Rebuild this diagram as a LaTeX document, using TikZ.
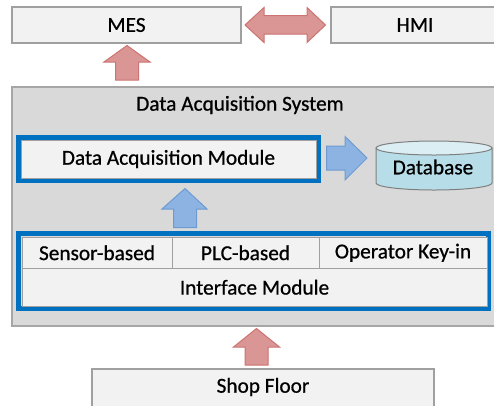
\documentclass[tikz,border=0pt]{standalone}
\usepackage{fontspec}
\setmainfont{Carlito}[BoldFont=Carlito, BoldFeatures={FakeBold=0.7}]
\definecolor{boxfill}{HTML}{F2F2F2}
\definecolor{boxline}{HTML}{A0A0A0}
\definecolor{sysfill}{HTML}{D9D9D9}
\definecolor{sysline}{HTML}{A6A6A6}
\definecolor{modblue}{HTML}{0070C0}
\definecolor{redfill}{HTML}{D99694}
\definecolor{redline}{HTML}{C0504D}
\definecolor{bluefill}{HTML}{8DB3E2}
\definecolor{blueline}{HTML}{6C9BD2}
\definecolor{dbfill}{HTML}{B7DEE8}
\definecolor{dbtop}{HTML}{DAEEF3}
\definecolor{dbline}{HTML}{7F7F7F}
\tikzset{
  txt/.style={font=\fontsize{21.3}{24}\selectfont\bfseries},
  plainbox/.style={draw=boxline, fill=boxfill, line width=1.3pt, inner sep=0pt, txt},
  cellbox/.style={draw=boxline, fill=boxfill, line width=1pt, inner sep=0pt, txt},
  bluebox/.style={draw=modblue, line width=5pt, inner sep=0pt},
  redarrow/.style={draw=redline!80, fill=redfill, line width=1pt, line join=miter},
  bluearrow/.style={draw=blueline, fill=bluefill, line width=1pt, line join=miter},
  lbl/.style={inner sep=0pt, txt}
}
\begin{document}
\begin{tikzpicture}[x=1pt,y=-1pt]
\useasboundingbox (0,0) rectangle (494,405);
\clip (0,0) rectangle (494,405);
% top row
\node[plainbox, minimum width=229pt, minimum height=36pt] (mes) at (126.5,25) {MES};
\node[plainbox, minimum width=229pt, minimum height=36pt] (hmi) at (445.5,25) {};
\node[lbl] (hmitxt) at (415,25) {HMI};
% double arrow MES <-> HMI
\draw[redarrow] (245,25) -- (264,7.5) -- (264,15.5) -- (307,15.5) -- (307,7.5) -- (325.5,25)
   -- (307,42.5) -- (307,34) -- (264,34) -- (264,42.5) -- cycle;
% up arrow to MES
\draw[redarrow] (127,45.5) -- (150,62) -- (138.5,62) -- (138.5,80) -- (115.5,80) -- (115.5,62) -- (104,62) -- cycle;
% system box
\node[draw=sysline, fill=sysfill, line width=1.3pt, inner sep=0pt, minimum width=500pt, minimum height=239pt] (sys) at (262,206.5) {};
\node[lbl] (systxt) at (240,105) {Data Acquisition System};
% data acquisition module
\node[bluebox, minimum width=300pt, minimum height=43pt] (damb) at (168.25,159) {};
\node[cellbox, minimum width=295pt, minimum height=38pt] (dam) at (168.5,159) {Data Acquisition Module};
% arrow to database
\draw[bluearrow] (367,158) -- (345,136.5) -- (345,146) -- (326.5,146) -- (326.5,170) -- (345,170) -- (345,180) -- cycle;
% database cylinder
\draw[draw=dbline, fill=dbfill, line width=1pt] (376,148) -- (376,183) arc[start angle=180, end angle=0, x radius=58, y radius=7] -- (492,148) -- cycle;
\draw[draw=dbline, fill=dbtop, line width=1pt] (434,148) ellipse[x radius=58, y radius=7];
\node[lbl] (db) at (433,167) {Database};
% blue up arrow
\draw[bluearrow] (185,188.5) -- (207,209) -- (196.5,209) -- (196.5,227.5) -- (173.5,227.5) -- (173.5,209) -- (162,209) -- cycle;
% interface module
\node[bluebox, minimum width=470pt, minimum height=75pt] (ifb) at (253.5,271) {};
\node[cellbox, minimum width=150pt, minimum height=31.5pt] (sensor) at (97,252.75) {Sensor-based};
\node[cellbox, minimum width=147pt, minimum height=31.5pt] (plc) at (245.5,252.75) {PLC-based};
\node[cellbox, minimum width=168pt, minimum height=31.5pt] (oper) at (403,252.75) {Operator Key-in};
\node[cellbox, minimum width=465pt, minimum height=37.5pt] (ifm) at (254.5,287.25) {Interface Module};
% red up arrow from shop floor
\draw[redarrow] (256.5,328.5) -- (279.5,347) -- (268,347) -- (268,365) -- (245,365) -- (245,347) -- (233.5,347) -- cycle;
% shop floor
\node[plainbox, minimum width=342pt, minimum height=60pt] (shop) at (263,399) {};
\node[lbl] (shoptxt) at (263,387) {Shop Floor};
\end{tikzpicture}
\end{document}
